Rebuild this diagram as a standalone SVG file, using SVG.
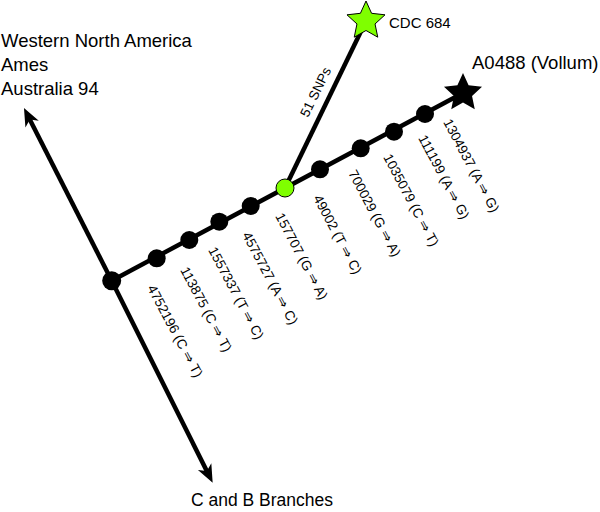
<svg xmlns="http://www.w3.org/2000/svg" width="600" height="512" viewBox="0 0 600 512">
<style>
.br{stroke:#000;stroke-width:4.5;fill:none}
.nd{fill:#000}
.lb{font-family:"Liberation Sans",Arial,sans-serif;font-size:13.5px;fill:#000}
.tx{font-family:"Liberation Sans",Arial,sans-serif;fill:#000}
.gr{fill:#7fff00;stroke:#000;stroke-width:1}
</style>
<defs>
<marker id="ah" markerUnits="userSpaceOnUse" orient="auto" refX="0" refY="0" markerWidth="30" markerHeight="30" overflow="visible">
<path d="M12,0 L-6,-7.5 L-1,0 L-6,7.5 Z" fill="#000"/>
</marker>
<path id="star" d="M0,-20 L5.58,-7.69 L19.02,-6.18 L9.04,2.94 L11.76,16.18 L0,9.5 L-11.76,16.18 L-9.04,2.94 L-19.02,-6.18 L-5.58,-7.69 Z"/>
</defs>
<g id="connectors">
<path class="br" d="M111.7,280.7 L29.4,118.7" marker-end="url(#ah)"/>
<path class="br" d="M111.7,280.7 L207.3,472" marker-end="url(#ah)"/>
<path class="br" d="M111.7,280.7 L463,93"/>
<path class="br" d="M285,188 L366,21"/>
</g>
<g id="n0"><circle class="nd" cx="111.7" cy="280.7" r="9.5"/><text class="lb" transform="translate(147,288) rotate(62)">4752196 (C ⇒ T)</text></g>
<g id="n1"><circle class="nd" cx="156.7" cy="258.3" r="9"/><text class="lb" transform="translate(180,270) rotate(62)">113875 (C ⇒ T)</text></g>
<g id="n2"><circle class="nd" cx="189.3" cy="240" r="9"/><text class="lb" transform="translate(208,250) rotate(62)">1557337 (T ⇒ C)</text></g>
<g id="n3"><circle class="nd" cx="219.3" cy="221.7" r="9"/><text class="lb" transform="translate(242,235) rotate(62)">4575727 (A ⇒ C)</text></g>
<g id="n4"><circle class="nd" cx="250.7" cy="206" r="9"/><text class="lb" transform="translate(275,216) rotate(62)">157707 (G ⇒ A)</text></g>
<g id="n5"><circle class="gr" cx="285" cy="188" r="9"/><text class="lb" transform="translate(313,198) rotate(62)">49002 (T ⇒ C)</text></g>
<g id="n6"><circle class="nd" cx="320" cy="169.3" r="9"/><text class="lb" transform="translate(348,173) rotate(62)">700029 (G ⇒ A)</text></g>
<g id="n7"><circle class="nd" cx="360.7" cy="148.3" r="9"/><text class="lb" transform="translate(383,157) rotate(62)">1035079 (C ⇒ T)</text></g>
<g id="n8"><circle class="nd" cx="394" cy="131.7" r="9"/><text class="lb" transform="translate(418,138) rotate(62)">111199 (A ⇒ G)</text></g>
<g id="n9"><circle class="nd" cx="425" cy="114" r="9"/><text class="lb" transform="translate(443,122) rotate(62)">1304937 (A ⇒ G)</text></g>
<g id="vollum"><use href="#star" transform="translate(463,93)" fill="#000"/><text class="tx" x="472" y="69" font-size="18.5">A0488 (Vollum)</text></g>
<g id="cdc684"><use href="#star" transform="translate(366,21)" class="gr"/><text class="tx" x="389" y="28" font-size="15">CDC 684</text></g>
<g id="snps"><text class="lb" transform="translate(308,118) rotate(-64)">51 SNPs</text></g>
<g id="wna"><text class="tx" font-size="18.5"><tspan x="1" y="47">Western North America</tspan><tspan x="1" y="71">Ames</tspan><tspan x="1" y="95">Australia 94</tspan></text></g>
<g id="cb"><text class="tx" x="191" y="506" font-size="17.5">C and B Branches</text></g>
</svg>
